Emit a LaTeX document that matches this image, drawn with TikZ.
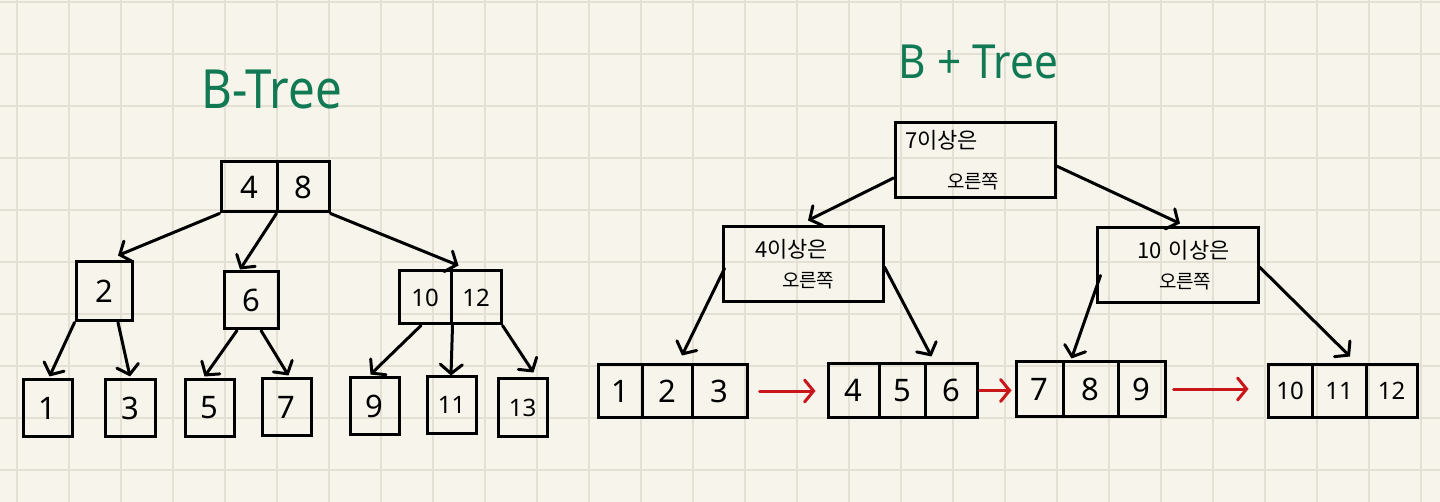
\documentclass[tikz,border=0pt]{standalone}
\usepackage{fontspec}
\setmainfont{Noto Sans}
\newfontfamily\kr{Noto Sans CJK KR}
\usetikzlibrary{arrows.meta}
\definecolor{paper}{HTML}{F7F5EB}
\definecolor{gridc}{HTML}{E4E0D3}
\definecolor{greenc}{HTML}{117A55}
\definecolor{redc}{HTML}{C8161B}
\newcommand{\sndline}[1]{{\fontsize{19}{20}\selectfont #1}}
\tikzset{
  cellbox/.style={draw=black, line width=3pt, inner sep=0pt, font=\fontsize{31}{36}\selectfont},
  smallcell/.style={cellbox, font=\fontsize{24}{28}\selectfont},
  knode/.style={draw=black, line width=3pt, text width=160pt, align=left, inner xsep=0pt, inner ysep=0pt, minimum height=75pt},
  arr/.style={draw=black, line width=3pt, line cap=round, -{Straight Barb[length=9pt,width=22pt,line cap=round]}},
  redarr/.style={arr, draw=redc},
  titletext/.style={text=greenc, inner sep=0pt, anchor=base},
  gridline/.style={draw=gridc, line width=2pt}
}
\begin{document}
\begin{tikzpicture}[x=1pt,y=-1pt]
\useasboundingbox (0,0) rectangle (1440,502);
\fill[paper] (0,0) rectangle (1440,502);
\foreach \i in {0,...,27} { \draw[gridline] ({17.3+52*\i},0) -- ({17.3+52*\i},502); }
\foreach \j in {0,...,9} { \draw[gridline] (0,{1.7+52*\j}) -- (1440,{1.7+52*\j}); }

% titles
\node[titletext, font=\fontsize{54}{60}\selectfont] (t1) at (271.5,109) {\scalebox{0.88}[1]{B-Tree}};
\node[titletext, font=\fontsize{47}{54}\selectfont] (t2) at (978.5,79) {\scalebox{0.9}[1]{B + Tree}};

% ---------------- B-Tree ----------------
\node[cellbox, minimum width=56pt, minimum height=50pt] (a4) at (249,187) {4};
\node[cellbox, minimum width=52pt, minimum height=50pt] (a8) at (303,187) {8};
\node[cellbox, minimum width=56pt, minimum height=59pt] (n2) at (104,291.5) {2};
\node[cellbox, minimum width=54pt, minimum height=57pt] (n6) at (251,300.5) {6};
\node[smallcell, minimum width=52pt, minimum height=53pt] (n10) at (425,297.5) {10};
\node[smallcell, minimum width=50pt, minimum height=53pt] (n12) at (476,297.5) {12};
\node[cellbox, minimum width=49pt, minimum height=56pt] (l1) at (47.5,408) {1};
\node[cellbox, minimum width=50pt, minimum height=56pt] (l3) at (130,408) {3};
\node[cellbox, minimum width=49pt, minimum height=56pt] (l5) at (209.5,408) {5};
\node[cellbox, minimum width=49pt, minimum height=56pt] (l7) at (286.5,407) {7};
\node[cellbox, minimum width=49pt, minimum height=56pt] (l9) at (374.5,406) {9};
\node[smallcell, minimum width=49pt, minimum height=56pt] (l11) at (451.5,405) {11};
\node[smallcell, minimum width=49pt, minimum height=57pt] (l13) at (522.5,407.5) {13};

\draw[arr] (a4.south west) -- ([xshift=14pt,yshift=5pt]n2.north);
\draw[arr] ([xshift=-2pt]a4.south east) -- ([xshift=-11pt,yshift=1pt]n6.north);
\draw[arr] (a8.south east) -- ([xshift=6pt,yshift=4pt]n10.north east);
\draw[arr] (n2.south west) -- ([xshift=2pt,yshift=2pt]l1.north);
\draw[arr] ([xshift=14pt]n2.south) -- ([yshift=2pt]l3.north);
\draw[arr] ([xshift=-14pt]n6.south) -- ([xshift=-5pt,yshift=2pt]l5.north);
\draw[arr] ([xshift=10pt]n6.south) -- ([xshift=2pt,yshift=2pt]l7.north);
\draw[arr] ([xshift=-4pt]n10.south) -- ([xshift=-4pt,yshift=2pt]l9.north);
\draw[arr] (n10.south east) -- ([xshift=-0.5pt]l11.north);
\draw[arr] (n12.south east) -- ([xshift=11pt,yshift=5pt]l13.north);

% ---------------- B+ Tree ----------------
\node[knode, font=\kr\fontsize{22}{40}\selectfont] (R) at (975,160.5) {\hspace*{10pt}7이상은\\\hspace*{52pt}\sndline{오른쪽}};
\node[knode, font=\kr\fontsize{22}{30}\selectfont] (M1) at (803,264.5) {\hspace*{32pt}4이상은\\\hspace*{59pt}\sndline{오른쪽}};
\node[knode, text width=161pt, font=\kr\fontsize{22}{30}\selectfont] (M2) at (1177.5,265.5) {\hspace*{40pt}10 이상은\\\hspace*{62pt}\sndline{오른쪽}};

\node[cellbox, minimum width=44pt, minimum height=52pt] (L1a) at (620,391) {1};
\node[cellbox, minimum width=50pt, minimum height=52pt] (L1b) at (667,391) {2};
\node[cellbox, minimum width=55pt, minimum height=52pt] (L1c) at (719.5,391) {3};
\node[cellbox, minimum width=51pt, minimum height=53pt] (L2a) at (853.5,390.5) {4};
\node[cellbox, minimum width=46pt, minimum height=53pt] (L2b) at (902,390.5) {5};
\node[cellbox, minimum width=52pt, minimum height=53pt] (L2c) at (951,390.5) {6};
\node[cellbox, minimum width=47pt, minimum height=54pt] (L3a) at (1039.5,389) {7};
\node[cellbox, minimum width=55pt, minimum height=54pt] (L3b) at (1090.5,389) {8};
\node[cellbox, minimum width=47pt, minimum height=54pt] (L3c) at (1141.5,389) {9};
\node[smallcell, minimum width=44pt, minimum height=52pt] (L4a) at (1290,391) {10};
\node[smallcell, minimum width=54pt, minimum height=52pt] (L4b) at (1339,391) {11};
\node[smallcell, minimum width=51pt, minimum height=52pt] (L4c) at (1391.5,391) {12};

\draw[arr] ([yshift=-17.5pt]R.west) -- ([xshift=5pt,yshift=5pt]M1.north);
\draw[arr] ([yshift=-5.5pt]R.east) -- ([xshift=2.5pt,yshift=3pt]M2.north);
\draw[arr] ([xshift=3pt,yshift=-4pt]M1.west) -- ([xshift=15pt,yshift=8pt]L1b.north);
\draw[arr] ([yshift=-2.5pt]M1.east) -- ([xshift=8pt,yshift=6pt]L2c.north west);
\draw[arr] ([xshift=5pt,yshift=-10pt]M2.west) -- ([xshift=7pt,yshift=2pt]L3a.north east);
\draw[arr] ([yshift=-1.5pt]M2.east) -- ([xshift=11pt,yshift=7pt]L4b.north);

\draw[redarr, shorten <=11pt, shorten >=11pt] (L1c.east) -- (L1c.east -| L2a.west);
\draw[redarr, shorten <=1pt, shorten >=3pt] (L2c.east) -- (L2c.east -| L3a.west);
\draw[redarr, shorten <=7pt, shorten >=18pt] (L3c.east) -- (L3c.east -| L4a.west);
\end{tikzpicture}
\end{document}
